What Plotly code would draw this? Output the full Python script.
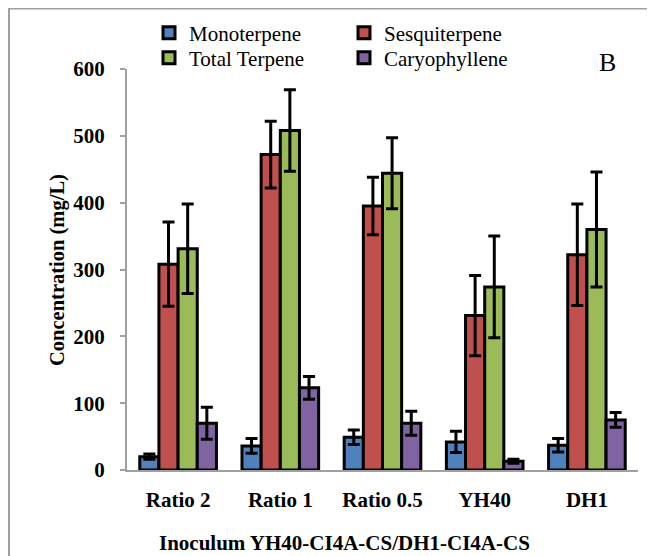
import plotly.graph_objects as go

categories = ["Ratio 2", "Ratio 1", "Ratio 0.5", "YH40", "DH1"]
series_names = ["Monoterpene", "Sesquiterpene", "Total Terpene", "Caryophyllene"]
monoterpene = [20, 36, 49, 42, 37]
monoterpene_err = [4, 11, 11, 16, 10]
sesquiterpene = [308, 472, 395, 231, 322]
sesquiterpene_err = [63, 50, 43, 60, 76]
total_terpene = [331, 508, 444, 274, 360]
total_terpene_err = [67, 61, 53, 76, 86]
caryophyllene = [70, 123, 70, 13, 75]
caryophyllene_err = [24, 17, 18, 3, 11]
y_ticks = [0, 100, 200, 300, 400, 500, 600]

colors = ["#4F81BD", "#C0504D", "#9BBB59", "#8064A2"]
values = [monoterpene, sesquiterpene, total_terpene, caryophyllene]
errors = [monoterpene_err, sesquiterpene_err, total_terpene_err, caryophyllene_err]
legend_ids = ["legend", "legend2", "legend3", "legend4"]

FONT = "Liberation Serif"
OFF = 8  # page body margin offset
W, H = 655 - OFF, 556 - OFF
L, T = 127 - OFF, 69 - OFF
PLOT_RIGHT, PLOT_BOTTOM = 638 - OFF, 470 - OFF
R, B = W - PLOT_RIGHT, H - PLOT_BOTTOM
PW, PH = PLOT_RIGHT - L, PLOT_BOTTOM - T

fig = go.Figure()
for name, vals, errs, col, lg in zip(series_names, values, errors, colors, legend_ids):
    fig.add_trace(go.Bar(
        x=categories, y=vals, name=name,
        marker=dict(color=col, line=dict(color="black", width=3)),
        error_y=dict(type="data", array=errs, visible=True, color="black",
                     thickness=3, width=6),
        legend=lg,
    ))

legend_common = dict(
    orientation="h", xanchor="left", yanchor="middle", xref="container", yref="container",
    font=dict(family=FONT, size=21, color="black"),
    bgcolor="rgba(0,0,0,0)", itemwidth=30, itemclick=False,
)


def lpos(px_x, px_y):
    return dict(x=(px_x - OFF) / W, y=1 - (px_y - OFF) / H)


fig.update_layout(
    width=W, height=H,
    margin=dict(l=L, r=R, t=T, b=B, autoexpand=False),
    paper_bgcolor="white", plot_bgcolor="white",
    barmode="group", bargap=0.25, bargroupgap=0,
    font=dict(family=FONT, color="black"),
    showlegend=True,
    legend=dict(**lpos(190 - 41, 33), **legend_common),
    legend2=dict(**lpos(385 - 41, 33), **legend_common),
    legend3=dict(**lpos(190 - 41, 58), **legend_common),
    legend4=dict(**lpos(385 - 41, 58), **legend_common),
    xaxis=dict(
        showline=True, linecolor="#A0A0A0", linewidth=2,
        ticks="", showgrid=False,
        tickfont=dict(family=FONT, size=21, color="black", weight="bold"),
        ticklabelstandoff=10,
    ),
    yaxis=dict(
        range=[0, 600], tickvals=y_ticks,
        showline=True, linecolor="#A0A0A0", linewidth=2,
        ticks="outside", ticklen=5, tickcolor="#A0A0A0", tickwidth=1.5,
        showgrid=False, zeroline=False,
        tickfont=dict(family=FONT, size=21, color="black", weight="bold"),
        ticklabelstandoff=11,
    ),
    annotations=[
        dict(text="B", xref="paper", yref="paper", x=(618 - OFF - L) / PW,
             y=1 + (T - (46 - OFF)) / PH, showarrow=False,
             font=dict(family=FONT, size=26, color="black")),
        dict(text="<b>Inoculum YH40-CI4A-CS/DH1-CI4A-CS</b>", xref="paper", yref="paper",
             x=(344 - OFF - L) / PW, y=-((543 - OFF) - PLOT_BOTTOM) / PH, showarrow=False,
             xanchor="center", yanchor="middle",
             font=dict(family=FONT, size=21, color="black")),
        dict(text="<b>Concentration (mg/L)</b>", xref="paper", yref="paper",
             x=-(L - (57 - OFF)) / PW, y=(PLOT_BOTTOM - (270 - OFF)) / PH,
             showarrow=False, textangle=-90, xanchor="center", yanchor="middle",
             font=dict(family=FONT, size=20.5, color="black")),
    ],
    shapes=[dict(type="rect", xref="paper", yref="paper",
                 x0=(1 - L) / PW, x1=(700 - L) / PW,
                 y0=-(600 - PLOT_BOTTOM) / PH, y1=1 + (T - 0.5) / PH,
                 line=dict(color="#A0A0A0", width=2), layer="below")],
)

fig.write_html("out.html")
